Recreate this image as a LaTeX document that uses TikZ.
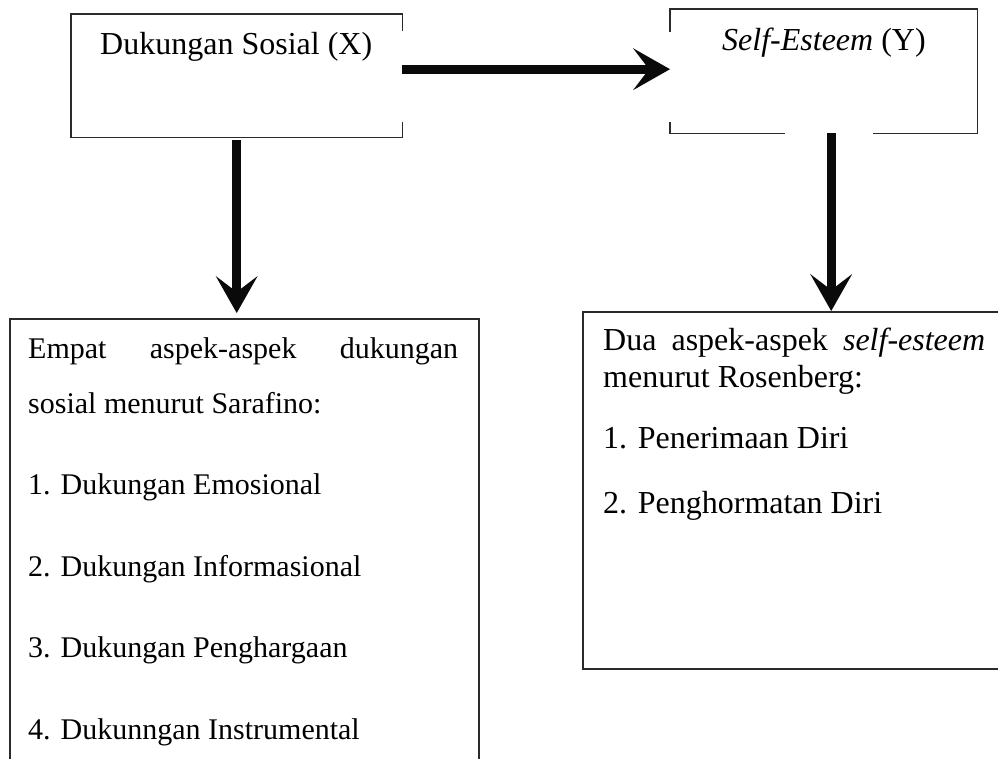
\documentclass[tikz,border=0pt]{standalone}
\usepackage{fontspec}
\setmainfont{Liberation Serif}
\usepackage{tikz}
\usetikzlibrary{arrows.meta,positioning}
\definecolor{garisKotak}{HTML}{2B2B2B}
\definecolor{hitamPanah}{HTML}{0A0A0A}

\begin{document}
\begin{tikzpicture}[x=1pt,y=-1pt,
  kotak/.style={draw=garisKotak,line width=1.5pt,anchor=north west,inner sep=0pt},
  kotakKosong/.style={anchor=north west,inner sep=0pt},
  bingkai/.style={garisKotak,line width=1.5pt},
  panah/.style={hitamPanah,line width=9pt,-{Stealth[length=37pt,width=42pt,inset=16pt,line width=0pt]}},
  teks/.style={anchor=base west,inner sep=0pt,font={\fontsize{32}{37}\selectfont}},
  teksKecil/.style={anchor=base west,inner sep=0pt,font={\fontsize{30}{36}\selectfont}}]
\useasboundingbox (0,0) rectangle (998,758);
\clip (0,0) rectangle (998,758);
\fill[white] (0,0) rectangle (998,758);

% kotak variabel
\node[kotakKosong,minimum width=331pt,minimum height=123pt] (dukungan) at (71,14) {};
\node[kotakKosong,minimum width=307pt,minimum height=124pt] (selfesteem) at (670,9) {};
\node[kotak,minimum width=469pt,minimum height=480pt] (empat) at (9,318) {};
\node[kotak,minimum width=450pt,minimum height=357pt] (dua) at (582,311) {};

\draw[bingkai] ([yshift=-17pt]dukungan.north east) -- (dukungan.north east) -- (dukungan.north west)
  -- (dukungan.south west) -- (dukungan.south east) -- ([yshift=15pt]dukungan.south east);
\draw[bingkai] ([yshift=-23pt]selfesteem.north west) -- (selfesteem.north west) -- (selfesteem.north east)
  -- (selfesteem.south east) -- ([xshift=-104pt]selfesteem.south east);
\draw[bingkai] ([xshift=115pt]selfesteem.south west) -- (selfesteem.south west) -- ([yshift=11pt]selfesteem.south west);

\node[teks] (judulX) at ([xshift=29pt,yshift=-40pt]dukungan.north west) {Dukungan Sosial (X)};
\node[teks] (judulY) at ([xshift=52pt,yshift=-41pt]selfesteem.north west) {\textit{Self-Esteem} (Y)};

% aspek dukungan sosial
\node[teksKecil] (empatA) at ([xshift=19pt,yshift=-40pt]empat.north west) {\makebox[430pt][s]{Empat aspek-aspek dukungan}};
\node[teksKecil] (empatB) at ([xshift=19pt,yshift=-95pt]empat.north west) {sosial menurut Sarafino:};
\foreach \isi [count=\i] in {Dukungan Emosional,Dukungan Informasional,Dukungan Penghargaan,Dukunngan Instrumental}
  \node[teksKecil] (aspekX\i) at ([xshift=19pt,yshift={-95pt-81.5pt*\i}]empat.north west) {\i. \isi};

% aspek self-esteem
\node[teks] (duaA) at ([xshift=21pt,yshift=-39pt]dua.north west) {\makebox[382pt][s]{Dua aspek-aspek \textit{self-esteem}}};
\node[teks] (duaB) at ([xshift=21pt,yshift=-76pt]dua.north west) {menurut Rosenberg:};
\node[teks] (aspekY1) at ([xshift=21pt,yshift=-137pt]dua.north west) {1. Penerimaan Diri};
\node[teks] (aspekY2) at ([xshift=21pt,yshift=-202pt]dua.north west) {2. Penghormatan Diri};

% panah
\draw[panah] ([yshift=6.5pt]dukungan.east) -- ([yshift=2pt]selfesteem.west);
\draw[panah] ([yshift=-3pt]dukungan.south) -- ([yshift=5pt]dukungan.south |- empat.north);
\draw[panah] ([xshift=7.5pt]selfesteem.south) -- ([xshift=7.5pt]selfesteem.south |- dua.north);
\end{tikzpicture}
\end{document}
